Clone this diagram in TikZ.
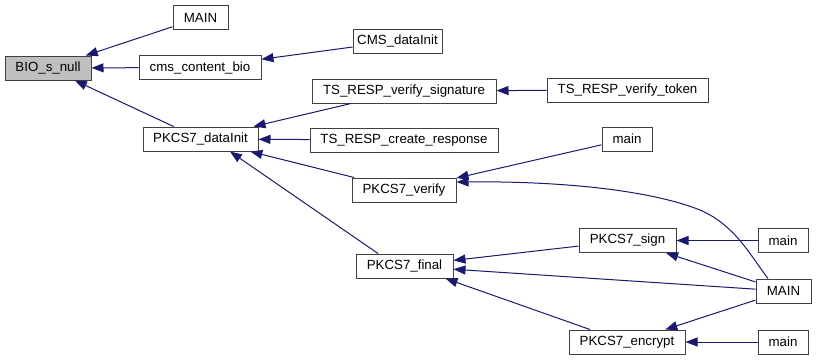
\documentclass[tikz,border=0pt]{standalone}
\usepackage{fontspec}
\setmainfont{Liberation Sans}
\usetikzlibrary{arrows.meta}
\definecolor{edgeblue}{HTML}{191970}
\definecolor{boxline}{HTML}{404040}
\tikzset{
  fn/.style={draw=boxline, line width=1pt, fill=white, inner sep=0pt,
    minimum height=24pt, font=\fontsize{13.3}{16}\selectfont},
  current/.style={fn, fill=black!25},
  arr/.style={draw=edgeblue, line width=1pt,
    {Triangle[length=12pt,width=9pt]}-}
}
\begin{document}
\begin{tikzpicture}[x=1pt,y=-1pt]
\useasboundingbox[fill=white] (0,0) rectangle (816,360);

% functions, one column per call depth
\node[current, minimum width=86pt]  (bio)      at (48,68)     {BIO\_s\_null};
\node[fn, minimum width=55pt]       (mainA)    at (200.5,17.5){MAIN};
\node[fn, minimum width=122pt]      (cmsbio)   at (200,67.5)  {cms\_content\_bio};
\node[fn, minimum width=115pt]      (dinit)    at (200.5,139) {PKCS7\_dataInit};
\node[fn, minimum width=89pt]       (cmsinit)  at (397.5,41)  {CMS\_dataInit};
\node[fn, minimum width=184pt]      (tssig)    at (404,91)    {TS\_RESP\_verify\_signature};
\node[fn, minimum width=188pt]      (tscreate) at (404,140)   {TS\_RESP\_create\_response};
\node[fn, minimum width=104pt]      (verify)   at (404,190)   {PKCS7\_verify};
\node[fn, minimum width=97pt]       (final)    at (404.5,266) {PKCS7\_final};
\node[fn, minimum width=161pt]      (tstok)    at (627.5,90)  {TS\_RESP\_verify\_token};
\node[fn, minimum width=50pt]       (mainB)    at (627,139)   {main};
\node[fn, minimum width=97pt]       (sign)     at (627.5,240.5){PKCS7\_sign};
\node[fn, minimum width=116pt]      (encrypt)  at (627,342)   {PKCS7\_encrypt};
\node[fn, minimum width=50pt]       (mainC)    at (783,240.5) {main};
\node[fn, minimum width=55pt]       (MAINr)    at (783.5,291) {MAIN};
\node[fn, minimum width=50pt]       (mainD)    at (783,342)   {main};

% caller edges, arrow at the callee
\draw[arr] (bio) -- (mainA);
\draw[arr] (bio) -- (cmsbio);
\draw[arr] (bio) -- (dinit);
\draw[arr] (cmsbio) -- (cmsinit);
\draw[arr] (dinit) -- (tssig);
\draw[arr] (dinit) -- (tscreate);
\draw[arr] (dinit) -- (verify);
\draw[arr] ([xshift=29.5pt]dinit.south) -- ([xshift=-26.5pt]final.north);
\draw[arr] (tssig) -- (tstok);
\draw[arr] (verify) -- (mainB);
\draw[arr] ([yshift=8pt]verify.east) .. controls (560,181) and (650,190) .. (700,210)
  .. controls (735,225) and (750,255) .. ([xshift=-15.5pt]MAINr.north);
\draw[arr] (final) -- (sign);
\draw[arr] (final) -- (MAINr);
\draw[arr] ([xshift=-8pt]final.south east) -- ([xshift=-37pt]encrypt.north);
\draw[arr] (sign) -- (mainC);
\draw[arr] (sign) -- (MAINr);
\draw[arr] (encrypt) -- (MAINr);
\draw[arr] (encrypt) -- (mainD);
\end{tikzpicture}
\end{document}
